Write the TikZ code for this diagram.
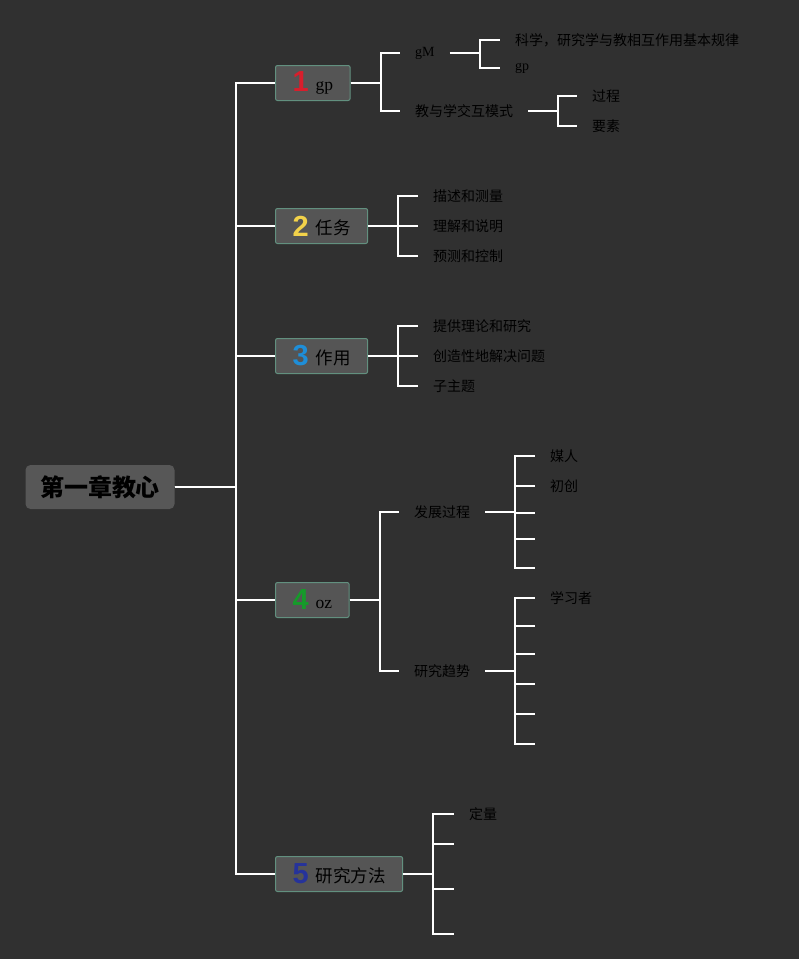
\documentclass[tikz,border=0pt]{standalone}
\usepackage{fontspec}
\setmainfont{Liberation Serif}
\newfontfamily\cjk{Noto Sans CJK SC}
\newfontfamily\numf{Liberation Sans}
\definecolor{bg}{HTML}{303030}
\definecolor{nodef}{HTML}{555555}
\definecolor{rootf}{HTML}{575757}
\definecolor{bordc}{HTML}{62907F}
\definecolor{cone}{HTML}{D81E2C}
\definecolor{ctwo}{HTML}{F2D24A}
\definecolor{cthree}{HTML}{1E8ED8}
\definecolor{cfour}{HTML}{169A2A}
\definecolor{cfive}{HTML}{26339A}
\newcommand\topicnum[3]{{\numf\bfseries\fontsize{29}{29}\selectfont\color{#1}#2}\hspace{7pt}\raisebox{1.5pt}{#3}}
\begin{document}
\begin{tikzpicture}[x=1pt,y=-1pt,
  conn/.style={draw=white,line width=2pt},
  rootbox/.style={fill=rootf,rounded corners=5pt,minimum width=149pt,minimum height=44pt,inner sep=0pt,text=black,font=\cjk\bfseries\fontsize{24}{26}\selectfont},
  topic/.style={draw=bordc,fill=nodef,line width=1pt,rounded corners=2pt,minimum height=35pt,inner xsep=17pt,inner ysep=0pt,anchor=west,text=black,font=\cjk\fontsize{17.5}{20}\selectfont},
  lab/.style={anchor=west,inner xsep=15pt,inner ysep=1pt,text=black,font=\cjk\fontsize{14}{16}\selectfont},
  latlab/.style={lab,font=\rmfamily\fontsize{14}{16}\selectfont}
]
\useasboundingbox[fill=bg] (0,0) rectangle (799,959);

% root and main topics
\node[rootbox] (root) at (100,487) {第一章教心};
\node[topic] (n1) at (275,83) {\topicnum{cone}{1}{\rmfamily gp}};
\node[topic] (n2) at (275,226) {\topicnum{ctwo}{2}{任务}};
\node[topic] (n3) at (275,356) {\topicnum{cthree}{3}{作用}};
\node[topic] (n4) at (275,600) {\topicnum{cfour}{4}{\rmfamily oz}};
\node[topic] (n5) at (275,874) {\topicnum{cfive}{5}{研究方法}};

\foreach \n in {n1,n2,n3,n4,n5}
  \draw[conn] (root.east) -- ++(61,0) |- (\n.west);

% topic 1
\node[latlab] (a1) at (400,53) {gM};
\node[lab] (a2) at (400,111) {教与学交互模式};
\node[lab] (a11) at (500,40) {科学，研究学与教相互作用基本规律};
\node[latlab] (a12) at (500,68) {gp};
\node[lab] (a21) at (577,96) {过程};
\node[lab] (a22) at (577,126) {要素};
\foreach \c in {a1,a2} \draw[conn] (n1.east) -- ++(30,0) |- (\c.west);
\foreach \c in {a11,a12} \draw[conn] (a1.east) -- ++(30,0) |- (\c.west);
\foreach \c in {a21,a22} \draw[conn] (a2.east) -- ++(30,0) |- (\c.west);

% topic 2
\node[lab] (b1) at (418,196) {描述和测量};
\node[lab] (b2) at (418,226) {理解和说明};
\node[lab] (b3) at (418,256) {预测和控制};
\foreach \c in {b1,b2,b3} \draw[conn] (n2.east) -- ++(30,0) |- (\c.west);

% topic 3
\node[lab] (c1) at (418,326) {提供理论和研究};
\node[lab] (c2) at (418,356) {创造性地解决问题};
\node[lab] (c3) at (418,386) {子主题};
\foreach \c in {c1,c2,c3} \draw[conn] (n3.east) -- ++(30,0) |- (\c.west);

% topic 4
\node[lab] (d1) at (399,512) {发展过程};
\node[lab] (d2) at (399,671) {研究趋势};
\foreach \c in {d1,d2} \draw[conn] (n4.east) -- ++(30,0) |- (\c.west);
\node[lab] (d11) at (535,456) {媒人};
\node[lab] (d12) at (535,486) {初创};
\coordinate (d13) at (535,513);
\coordinate (d14) at (535,539);
\coordinate (d15) at (535,568);
\foreach \c in {d11,d12} \draw[conn] (d1.east) -- ++(30,0) |- (\c.west);
\foreach \c in {d13,d14,d15} \draw[conn] (d1.east) -- ++(30,0) |- (\c);
\node[lab] (d21) at (535,598) {学习者};
\coordinate (d22) at (535,626);
\coordinate (d23) at (535,654);
\coordinate (d24) at (535,684);
\coordinate (d25) at (535,714);
\coordinate (d26) at (535,744);
\draw[conn] (d2.east) -- ++(30,0) |- (d21.west);
\foreach \c in {d22,d23,d24,d25,d26} \draw[conn] (d2.east) -- ++(30,0) |- (\c);

% topic 5
\node[lab] (e1) at (454,814) {定量};
\coordinate (e2) at (454,844);
\coordinate (e3) at (454,889);
\coordinate (e4) at (454,934);
\draw[conn] (n5.east) -- ++(30,0) |- (e1.west);
\foreach \c in {e2,e3,e4} \draw[conn] (n5.east) -- ++(30,0) |- (\c);
\end{tikzpicture}
\end{document}
